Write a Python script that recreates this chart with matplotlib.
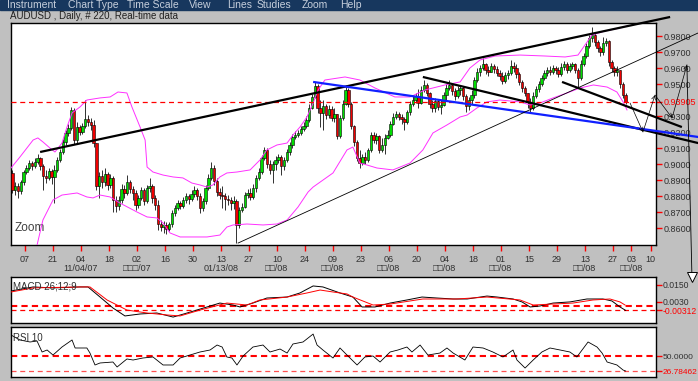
import numpy as np
import matplotlib.pyplot as plt

plt.rcParams['font.family'] = ['Liberation Sans', 'DejaVu Sans']

# ================================
# 1. DATA
# ================================
# AUDUSD daily candles, 220 bars, open = previous close
first_open = 0.8944
close = np.array([
    .8838, .8863, .8831, .8888, .8950, .8975, .9006, .8988, .9013, .9038,
    .8988, .8925, .8913, .8956, .8919, .8963, .9025, .9075, .9138, .9194,
    .9225, .9338, .9150, .9231, .9200, .9238, .9281, .9263, .9244, .9131,
    .8863, .8925, .8888, .8938, .8869, .8913, .8775, .8738, .8775, .8844,
    .8819, .8888, .8844, .8819, .8744, .8788, .8838, .8769, .8850, .8863,
    .8788, .8744, .8625, .8606, .8619, .8594, .8625, .8694, .8725, .8756,
    .8738, .8775, .8800, .8781, .8813, .8838, .8800, .8725, .8769, .8850,
    .8913, .8975, .8894, .8825, .8806, .8800, .8781, .8775, .8756, .8769,
    .8619, .8713, .8731, .8806, .8819, .8794, .8850, .8913, .8950, .9038,
    .9088, .9000, .8963, .9000, .9025, .9044, .8988, .9025, .9075, .9119,
    .9169, .9181, .9194, .9219, .9238, .9275, .9350, .9419, .9488, .9350,
    .9319, .9363, .9306, .9344, .9288, .9313, .9175, .9288, .9375, .9463,
    .9375, .9238, .9138, .9038, .9006, .9044, .9025, .9088, .9181, .9150,
    .9175, .9088, .9119, .9163, .9181, .9250, .9294, .9313, .9294, .9281,
    .9263, .9325, .9375, .9400, .9425, .9381, .9463, .9494, .9444, .9375,
    .9350, .9394, .9356, .9369, .9431, .9475, .9494, .9456, .9425, .9463,
    .9475, .9425, .9363, .9400, .9431, .9525, .9575, .9600, .9625, .9588,
    .9575, .9613, .9594, .9569, .9550, .9519, .9556, .9569, .9613, .9600,
    .9563, .9513, .9475, .9444, .9388, .9350, .9425, .9469, .9500, .9538,
    .9569, .9588, .9575, .9600, .9588, .9563, .9606, .9625, .9588, .9613,
    .9625, .9588, .9538, .9625, .9675, .9738, .9788, .9806, .9763, .9725,
    .9700, .9756, .9769, .9638, .9600, .9575, .9588, .9500, .9431, .93905])
high = np.array([
    .8963, .8888, .8881, .8900, .8963, .8994, .9025, .9019, .9038, .9063,
    .9044, .9000, .8963, .8975, .8969, .8994, .9044, .9094, .9156, .9213,
    .9250, .9356, .9350, .9263, .9244, .9256, .9400, .9306, .9288, .9275,
    .9131, .8950, .8963, .8975, .8950, .8938, .8925, .8800, .8800, .8875,
    .8869, .8931, .8900, .8863, .8838, .8806, .8856, .8850, .8869, .8913,
    .8875, .8806, .8775, .8650, .8644, .8638, .8638, .8713, .8744, .8775,
    .8769, .8794, .8819, .8813, .8838, .8863, .8850, .8819, .8788, .8869,
    .8938, .9013, .8994, .8913, .8850, .8863, .8819, .8806, .8794, .8800,
    .8781, .8731, .8756, .8825, .8844, .8850, .8875, .8931, .8975, .9056,
    .9106, .9100, .9025, .9019, .9050, .9063, .9056, .9044, .9094, .9138,
    .9188, .9206, .9213, .9238, .9263, .9300, .9375, .9438, .9513, .9500,
    .9400, .9400, .9375, .9369, .9363, .9350, .9313, .9306, .9400, .9494,
    .9475, .9388, .9244, .9150, .9088, .9063, .9075, .9100, .9200, .9200,
    .9194, .9181, .9163, .9188, .9213, .9269, .9319, .9331, .9325, .9313,
    .9294, .9338, .9394, .9425, .9444, .9469, .9488, .9525, .9506, .9450,
    .9400, .9413, .9406, .9400, .9450, .9500, .9525, .9506, .9475, .9488,
    .9494, .9488, .9438, .9419, .9463, .9544, .9600, .9619, .9663, .9631,
    .9613, .9631, .9625, .9613, .9588, .9575, .9575, .9588, .9650, .9638,
    .9625, .9575, .9525, .9488, .9444, .9413, .9450, .9488, .9519, .9556,
    .9588, .9606, .9613, .9619, .9613, .9606, .9631, .9644, .9638, .9631,
    .9638, .9631, .9600, .9650, .9694, .9756, .9806, .9856, .9819, .9775,
    .9738, .9794, .9788, .9775, .9650, .9613, .9613, .9588, .9513, .9444])
low = np.array([
    .8819, .8806, .8788, .8813, .8869, .8938, .8963, .8963, .8975, .9000,
    .8963, .8838, .8881, .8900, .8875, .8756, .8950, .9013, .9063, .9119,
    .9175, .9213, .9125, .9131, .9181, .9188, .9225, .9238, .9213, .9106,
    .8838, .8788, .8850, .8863, .8838, .8850, .8700, .8700, .8713, .8756,
    .8788, .8806, .8819, .8775, .8713, .8725, .8775, .8744, .8756, .8825,
    .8756, .8713, .8588, .8581, .8569, .8563, .8581, .8606, .8675, .8713,
    .8719, .8725, .8756, .8750, .8769, .8794, .8775, .8694, .8706, .8750,
    .8838, .8900, .8869, .8800, .8781, .8725, .8713, .8744, .8713, .8719,
    .8506, .8600, .8700, .8725, .8788, .8775, .8781, .8825, .8900, .8938,
    .9025, .8975, .8938, .8881, .8963, .9006, .8931, .8963, .9013, .9056,
    .9100, .9156, .9169, .9181, .9206, .9225, .9263, .9344, .9413, .9319,
    .9231, .9213, .9281, .9288, .9269, .9263, .9156, .9163, .9275, .9369,
    .9356, .9219, .9113, .9019, .8975, .8994, .9000, .9013, .9075, .9131,
    .9125, .9069, .9075, .9063, .9156, .9169, .9244, .9281, .9275, .9250,
    .9213, .9250, .9306, .9363, .9381, .9350, .9375, .9450, .9425, .9350,
    .9325, .9325, .9338, .9313, .9363, .9400, .9463, .9431, .9400, .9413,
    .9431, .9400, .9325, .9338, .9375, .9413, .9513, .9550, .9588, .9563,
    .9550, .9575, .9569, .9550, .9525, .9500, .9506, .9531, .9556, .9575,
    .9538, .9494, .9450, .9425, .9350, .9325, .9338, .9413, .9450, .9488,
    .9525, .9550, .9556, .9563, .9563, .9544, .9550, .9588, .9569, .9575,
    .9594, .9569, .9475, .9525, .9613, .9663, .9725, .9763, .9738, .9700,
    .9675, .9681, .9738, .9613, .9575, .9550, .9550, .9475, .9413, .9375])

# Bollinger bands (traced, x = bar index)
upper_idx = [-0.5, 2.7, 7.4, 9.1, 10.9, 13.4, 15.2, 17.7, 19.5, 21.3,
             24.1, 26.6, 31.3, 34.9, 37.7, 40.9, 42.7, 45.6, 47.4, 48.1,
             50.2, 53.8, 57.4, 60.9, 64.1, 67.0, 69.5, 71.6, 74.1, 76.6,
             80.2, 84.9, 88.4, 90.9, 94.5, 98.1, 100.2, 102.7, 105.2, 107.4,
             109.2, 111.6, 118.8, 124.1, 129.5, 136.6, 142.0, 147.4, 154.5, 159.9,
             163.4, 167.0, 172.4, 181.3, 190.2, 197.4, 202.0, 204.5, 207.0, 211.6,
             217.0, 219.5]
upper_band = [.8975, .9044, .9150, .9163, .9138, .9100, .9075, .9131, .9231, .9319,
              .9356, .9400, .9413, .9419, .9450, .9444, .9356, .9231, .9150, .8981,
              .8950, .8931, .8919, .8913, .8881, .8869, .8856, .8869, .8919, .8944,
              .8950, .8963, .9025, .9088, .9119, .9131, .9181, .9231, .9294, .9381,
              .9463, .9525, .9544, .9525, .9475, .9419, .9419, .9463, .9494, .9513,
              .9600, .9650, .9675, .9681, .9675, .9669, .9681, .9744, .9806, .9831,
              .9850, .9863]
lower_idx = [6.3, 8.4, 10.9, 14.5, 17.7, 23.1, 26.6, 28.8, 31.3, 34.9,
             38.4, 44.5, 48.1, 51.6, 53.8, 56.3, 59.9, 64.5, 69.5, 74.1,
             76.6, 78.8, 83.8, 89.5, 94.5, 98.1, 102.0, 105.6, 107.4, 114.5,
             119.5, 121.6, 124.1, 126.6, 130.2, 135.9, 142.0, 146.6, 150.2, 155.2,
             159.9, 162.4, 165.9, 169.5, 174.1, 181.3, 184.9, 188.4, 193.1, 198.1,
             202.7, 207.5, 212.4, 215.9, 218.1, 219.5]
lower_band = [.8369, .8463, .8650, .8775, .8806, .8819, .8794, .8788, .8806, .8794,
              .8756, .8700, .8669, .8663, .8631, .8569, .8544, .8544, .8544, .8556,
              .8606, .8619, .8625, .8619, .8625, .8650, .8731, .8825, .8856, .8944,
              .9088, .9106, .9006, .8994, .8975, .8963, .9006, .9088, .9194, .9244,
              .9294, .9306, .9350, .9388, .9400, .9388, .9369, .9381, .9413, .9444,
              .9475, .9494, .9481, .9450, .9388, .9338]

# hand drawn trend lines: ((bar, price), (bar, price))
black_lines = [((9.9, .9075), (234.9, .9919)),
               ((146.6, .9544), (244.9, .9131)),
               ((196.3, .9513), (239.1, .9231))]
blue_line = ((107.4, .9513), (244.9, .9169))
thin_line = ((80.6, .8506), (244.9, .9819))
# projected zigzag path drawn right of the last candle
proj_idx = [220.6, 225.2, 229.5, 235.6, 240.9, 242.7]
proj_price = [.9381, .9200, .9431, .9288, .9619, .8294]

# MACD 26;12;9
macd_idx = [-0.5, 7.4, 14.5, 24.1, 27.0, 31.3, 35.9, 40.2, 45.6, 51.6,
            57.4, 62.4, 69.5, 74.1, 78.8, 81.3, 85.9, 90.9, 98.1, 102.7,
            107.4, 110.9, 117.0, 121.6, 124.9, 129.5, 134.9, 140.9, 146.3, 151.6,
            157.4, 162.4, 169.5, 173.1, 178.8, 182.0, 184.9, 188.4, 193.1, 199.1,
            205.2, 210.9, 214.1, 217.0, 219.0]
macd_line = [.0107, .0136, .0129, .0136, .0136, .0064, -.0014, -.0071, -.0057, -.0050,
             -.0079, -.0050, -.0007, .0021, .0007, -.0007, .0021, .0057, .0064, .0093,
             .0143, .0136, .0093, .0064, -.0007, -.0007, .0021, .0043, .0064, .0057,
             .0050, .0050, .0071, .0064, .0050, .0029, -.0007, .0000, .0021, .0029,
             .0050, .0050, .0036, -.0007, -.00312]
signal_idx = [-0.5, 7.4, 24.1, 27.7, 33.8, 40.9, 48.1, 55.2, 59.9, 67.0,
              76.6, 83.8, 88.4, 98.1, 105.2, 109.9, 114.5, 119.5, 121.6, 128.8,
              134.9, 146.6, 158.8, 169.5, 181.3, 186.0, 193.1, 200.2, 207.4, 213.4,
              217.0, 218.8]
signal_line = [.0100, .0129, .0136, .0136, .0043, -.0029, -.0050, -.0064, -.0071, -.0029,
               .0021, .0007, .0043, .0064, .0093, .0114, .0100, .0086, .0064, .0007,
               .0014, .0050, .0050, .0064, .0043, .0007, .0014, .0021, .0043, .0050,
               .0029, .0007]

# RSI 10
rsi_idx = [-0.5, 2.7, 6.3, 8.8, 10.6, 12.4, 14.5, 17.7, 21.3, 22.4,
           24.1, 26.6, 27.7, 29.5, 31.3, 35.9, 37.4, 40.9, 43.1, 46.6,
           50.2, 53.8, 57.4, 59.9, 63.4, 67.0, 70.6, 73.1, 74.9, 76.6,
           78.4, 80.2, 82.4, 85.9, 89.5, 92.0, 95.6, 98.1, 100.2, 103.8,
           107.4, 108.8, 110.9, 114.5, 117.0, 119.5, 123.1, 125.9, 128.8, 131.3,
           134.9, 137.7, 140.9, 142.7, 145.6, 148.4, 152.7, 155.2, 157.4, 161.6,
           164.5, 168.1, 171.6, 175.2, 178.8, 180.2, 183.1, 186.0, 189.1, 192.0,
           195.6, 199.1, 201.6, 205.6, 208.8, 210.6, 212.4, 215.9, 218.1, 219.0]
rsi_line = [82.5, 74.8, 71.7, 73.2, 56.2, 59.3, 51.5, 63.9, 74.8, 62.4,
            62.4, 62.4, 54.6, 36.1, 39.2, 40.7, 33.0, 45.4, 43.8, 46.9,
            48.5, 36.1, 36.1, 46.9, 51.5, 56.2, 59.3, 67.0, 63.9, 48.5,
            46.9, 36.1, 50.0, 63.9, 67.0, 56.2, 60.8, 54.6, 68.6, 71.7,
            84.0, 67.0, 59.3, 46.9, 62.4, 51.5, 36.1, 48.5, 50.0, 40.7,
            56.2, 59.3, 63.9, 56.2, 67.0, 51.5, 54.6, 62.4, 54.6, 43.8,
            63.9, 62.4, 56.2, 48.5, 59.3, 43.8, 31.4, 43.8, 56.2, 62.4,
            59.3, 56.2, 48.5, 71.7, 63.9, 54.6, 40.7, 36.1, 28.3, 26.78462]

# date axis: Sundays every two weeks, then calendar days in the future area
tick_pos = [4.5 + 10 * k for k in range(22)] + [221, 228]
day_labels = ["07", "21", "04", "18", "02", "16", "30", "13", "27", "10", "24", "09",
              "23", "06", "20", "04", "18", "01", "15", "29", "13", "27", "03", "10"]
month_labels = ["", "", "11/04/07", "", "□□□/07", "", "", "01/13/08", "", "□□/08", "", "□□/08",
                "", "□□/08", "", "□□/08", "", "□□/08", "", "", "□□/08", "", "□□/08", ""]

menu_items = [("Instrument", 7), ("Chart Type", 68), ("Time Scale", 127), ("View", 189),
              ("Lines", 227), ("Studies", 257), ("Zoom", 302), ("Help", 340)]

# ================================
# 2. FIGURE / LAYOUT
# ================================
W, H = 698, 381
BG = "#c0c0c0"
TXT = "#303030"
XMIN, XMAX = -0.5, 229.86


def box(left, top, right, bottom):
    # pixel box (top-left origin) -> figure fraction
    return [left / W, 1 - bottom / H, (right - left) / W, (bottom - top) / H]


fig = plt.figure(figsize=(W / 100, H / 100), dpi=100)
fig.patch.set_facecolor(BG)

fig.add_artist(plt.Rectangle((0, 1 - 10 / H), 1, 10 / H, transform=fig.transFigure,
                             color="#17375e", zorder=0))
for name, px in menu_items:
    fig.text(px / W, 1 - 5 / H, name, color="#c6cfdc", fontsize=7.5, va="center")
fig.text(10 / W, 1 - 16 / H, "AUDUSD , Daily, # 220, Real-time data",
         fontsize=7, va="center", color="#202020")

ax = fig.add_axes(box(11, 23, 656, 245))
ax_m = fig.add_axes(box(11, 277, 656, 323))
ax_r = fig.add_axes(box(11, 327, 656, 377))

for a in (ax, ax_m, ax_r):
    a.set_facecolor("white")
    a.set_xlim(XMIN, XMAX)
    for s in a.spines.values():
        s.set_color("black")
        s.set_linewidth(1)
    a.yaxis.tick_right()
    a.tick_params(axis="both", direction="out", length=4, width=1, color="red",
                  labelcolor=TXT, labelsize=6.5, pad=1.5)

# ================================
# 3. MAIN PANEL: CANDLES
# ================================
idx = np.arange(len(close))
opens = np.r_[first_open, close[:-1]]
colors = np.where(close >= opens, "#00dc00", "#f00000")

ax.vlines(idx, low, high, color="#303030", lw=0.7, zorder=2)
ax.bar(idx, np.abs(close - opens), bottom=np.minimum(opens, close), width=0.9,
       color=colors, edgecolor="black", linewidth=0.4, zorder=3)

ax.plot(upper_idx, upper_band, color="#ff30ff", lw=0.7, zorder=4)
ax.plot(lower_idx, lower_band, color="#ff30ff", lw=0.7, zorder=4)

last_price = close[-1]
ax.axhline(last_price, color="red", lw=0.9, ls=(0, (4, 3)), zorder=4)

for (p0, p1) in black_lines:
    ax.plot([p0[0], p1[0]], [p0[1], p1[1]], color="black", lw=1.6,
            clip_on=False, zorder=6, solid_capstyle="butt")
ax.plot([blue_line[0][0], blue_line[1][0]], [blue_line[0][1], blue_line[1][1]],
        color="#1020ff", lw=1.6, clip_on=False, zorder=6, solid_capstyle="butt")
ax.plot([thin_line[0][0], thin_line[1][0]], [thin_line[0][1], thin_line[1][1]],
        color="black", lw=0.6, clip_on=False, zorder=6)

# zigzag projection with small arrows
for k in range(4):
    ax.annotate("", xy=(proj_idx[k + 1], proj_price[k + 1]),
                xytext=(proj_idx[k], proj_price[k]), annotation_clip=False,
                arrowprops=dict(arrowstyle="->", lw=0.5, color="black",
                                shrinkA=0, shrinkB=0, mutation_scale=7, clip_on=False),
                zorder=7)
ax.plot(proj_idx[4:], proj_price[4:], color="black", lw=0.6, clip_on=False, zorder=7)
ax.plot(proj_idx[-1], proj_price[-1], marker="v", ms=7, mfc="white", mec="black",
        mew=0.7, clip_on=False, zorder=7)

ax.set_ylim(0.84938, 0.98813)
main_ticks = [0.86, 0.87, 0.88, 0.89, 0.90, 0.91, 0.92, 0.93, last_price,
              0.95, 0.96, 0.97, 0.98]
ax.set_yticks(main_ticks, ["%.4f" % t if t != last_price else "0.93905" for t in main_ticks])
for t, lbl in zip(main_ticks, ax.get_yticklabels()):
    if t == last_price:
        lbl.set_color("red")

ax.set_xticks(tick_pos, [d + ("\n" + m if m else "\n") for d, m in zip(day_labels, month_labels)])
ax.tick_params(axis="x", pad=3)
for lbl in ax.get_xticklabels():
    lbl.set_linespacing(1.1)

ax.text(0.006, 0.075, "Zoom", transform=ax.transAxes, fontsize=8.5, color="#404040",
        va="center")

# ================================
# 4. MACD PANEL
# ================================
ax_m.plot(macd_idx, macd_line, color="black", lw=0.7, zorder=3)
ax_m.plot(signal_idx, signal_line, color="red", lw=0.7, zorder=3)
ax_m.axhline(0.0, color="red", lw=1.5, ls=(0, (3, 2)), zorder=2)
ax_m.axhline(macd_line[-1], color="red", lw=0.9, ls=(0, (4, 3)), zorder=2)
ax_m.set_ylim(-0.01214, 0.0207)
ax_m.set_xticks([])
ax_m.tick_params(axis="y", labelsize=6.2, pad=1)
ax_m.set_yticks([0.015, 0.003, macd_line[-1]], ["0.0150", "0.0030", "-0.00312"])
ax_m.get_yticklabels()[2].set_color("red")
ax_m.text(0.003, 0.8, "MACD 26;12;9", transform=ax_m.transAxes, fontsize=7,
          color=TXT, va="center")

# ================================
# 5. RSI PANEL
# ================================
ax_r.plot(rsi_idx, rsi_line, color="black", lw=0.6, zorder=3)
ax_r.axhline(50, color="red", lw=1.5, ls=(0, (3, 2)), zorder=2)
ax_r.axhline(rsi_line[-1], color="#ff5050", lw=0.9, ls=(0, (4, 3)), zorder=2)
ax_r.set_ylim(17.5, 94.9)
ax_r.set_xticks([])
ax_r.tick_params(axis="y", labelsize=6, pad=0.8)
ax_r.set_yticks([50, rsi_line[-1]], ["50.0000", "26.78462"])
ax_r.get_yticklabels()[1].set_color("red")
ax_r.text(0.003, 0.78, "RSI 10", transform=ax_r.transAxes, fontsize=7,
          color=TXT, va="center")

fig.savefig("out.png", dpi=100, facecolor=BG)
